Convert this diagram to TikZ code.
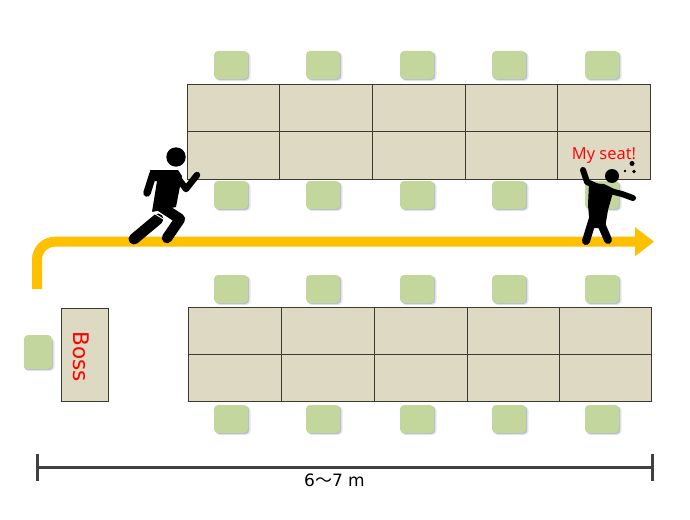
\documentclass[tikz,border=0pt]{standalone}
\usepackage{fontspec}
\setmainfont{DejaVu Sans}
\newfontfamily\labelfont{Open Sans}
\newfontfamily\cjk{Noto Sans CJK JP}
\definecolor{seatgreen}{HTML}{C3D69B}
\definecolor{tablefill}{HTML}{DDD9C3}
\definecolor{pathorange}{HTML}{FFC000}
\definecolor{shadowblue}{HTML}{7F8CA6}
\definecolor{gridline}{HTML}{3A3A30}
\definecolor{rulegray}{HTML}{404040}
\tikzset{
  x=1pt,y=-1pt,
  seatbox/.style={rectangle,rounded corners=4pt,fill=seatgreen,minimum width=#1,inner sep=0pt},
  seatshadow/.style={rounded corners=4pt,fill=shadowblue},
  tablegrid/.style={draw=gridline,line width=0.9pt,fill=tablefill},
  figure/.style={black,line cap=round,line join=round},
  redlabel/.style={text=red,inner sep=0pt,font=\labelfont},
}
\newcommand{\seatat}[3]{%
  \fill[seatshadow,opacity=0.2] (#1-15.5,#2-12.5) rectangle (#1+19.5,#2+16);
  \fill[seatshadow,opacity=0.45] (#1-15.5,#2-13) rectangle (#1+18.2,#2+15);
  \node[seatbox=34pt,minimum height=28pt] (#3) at (#1,#2) {};
}
\begin{document}
\begin{tikzpicture}
\useasboundingbox (0,0) rectangle (690,519);
\fill[white] (0,0) rectangle (690,519);
% tables
\draw[tablegrid] (187,84) rectangle (650,179);
\draw[gridline,line width=0.9pt] (187,131)--(650,131);
\foreach \c in {279,372,465,557} \draw[gridline,line width=0.9pt] (\c,84)--(\c,179);
\draw[tablegrid] (188,307) rectangle (651,401);
\draw[gridline,line width=0.9pt] (188,354)--(651,354);
\foreach \c in {281,374,467,559} \draw[gridline,line width=0.9pt] (\c,307)--(\c,401);
\draw[tablegrid] (61,308) rectangle (108,401);
% seats
\foreach \sx [count=\i] in {231,323,417,509,602}{
  \seatat{\sx}{65}{sa\i}
  \seatat{\sx}{195}{sb\i}
  \seatat{\sx}{289}{sc\i}
  \seatat{\sx}{419}{sd\i}
}
\fill[seatshadow,opacity=0.2] (24,338) rectangle (54.5,371);
\fill[seatshadow,opacity=0.45] (24,338) rectangle (53.2,370);
\node[seatbox=28pt,minimum height=34pt] (bossseat) at (38,352) {};
% route arrow
\coordinate (routeStart) at (37,289);
\coordinate (routeEnd) at (637,241.7);
\draw[pathorange,line width=10pt,rounded corners=18pt] (routeStart) -- (37,241.7) -- (routeEnd);
\fill[pathorange] (635,227.2) -- (654,241.7) -- (635,256.2) -- cycle;
% labels
\node[redlabel,font=\fontsize{21.5}{22}\selectfont,rotate=-90] (boss) at (81,357) {Boss};
\node[redlabel,font=\labelfont\fontsize{16.5}{17}\selectfont] (myseat) at (604,155.5) {My seat!};
% runner
\fill[figure] (176,157) circle (9.7);
\fill[figure] (150,170) -- (178,170) -- (182,176) -- (176,207) -- (152,212) -- (157,181) -- (150,181) -- cycle;
\draw[figure,line width=7.5pt] (153,174) -- (147,193);
\draw[figure,line width=6.5pt] (177,177) -- (186,189) -- (197,175);
\draw[figure,line width=11pt] (158,219) -- (134,239);
\draw[figure,line width=10.5pt] (160,206) -- (180,219) -- (167,238);
\draw[white,line width=0.9pt] (152,212) -- (164,219.5);
% standing figure
\fill[figure] (612,176) circle (7);
\fill[figure] (589,183) -- (604,184) -- (614,189) -- (608,210) -- (605,228) -- (590,228) -- (588,205) -- cycle;
\draw[figure,line width=6pt] (583,170) -- (587,182) -- (598,187);
\draw[figure,line width=6pt] (606,190) -- (622,194) -- (633,198);
\draw[figure,line width=8pt] (594,215) -- (586,241);
\draw[figure,line width=8pt] (599,218) -- (602,226) -- (608,240);
\fill[figure] (632,163.5) circle (2.5);
\fill[figure] (634,171.5) circle (1.9);
\fill[figure] (625,171) circle (1.3);
% dimension
\coordinate (dimL) at (37,467);
\coordinate (dimR) at (652,467);
\draw[rulegray,line width=3pt] (dimL) -- (dimR);
\draw[rulegray,line width=3pt] (37,454) -- (37,481);
\draw[rulegray,line width=3pt] (652,454) -- (652,481);
\node[inner sep=0pt,font=\fontsize{17}{18}\selectfont] (dimtext) at (334.5,480) {6{\cjk ～}7 m};
\end{tikzpicture}
\end{document}
